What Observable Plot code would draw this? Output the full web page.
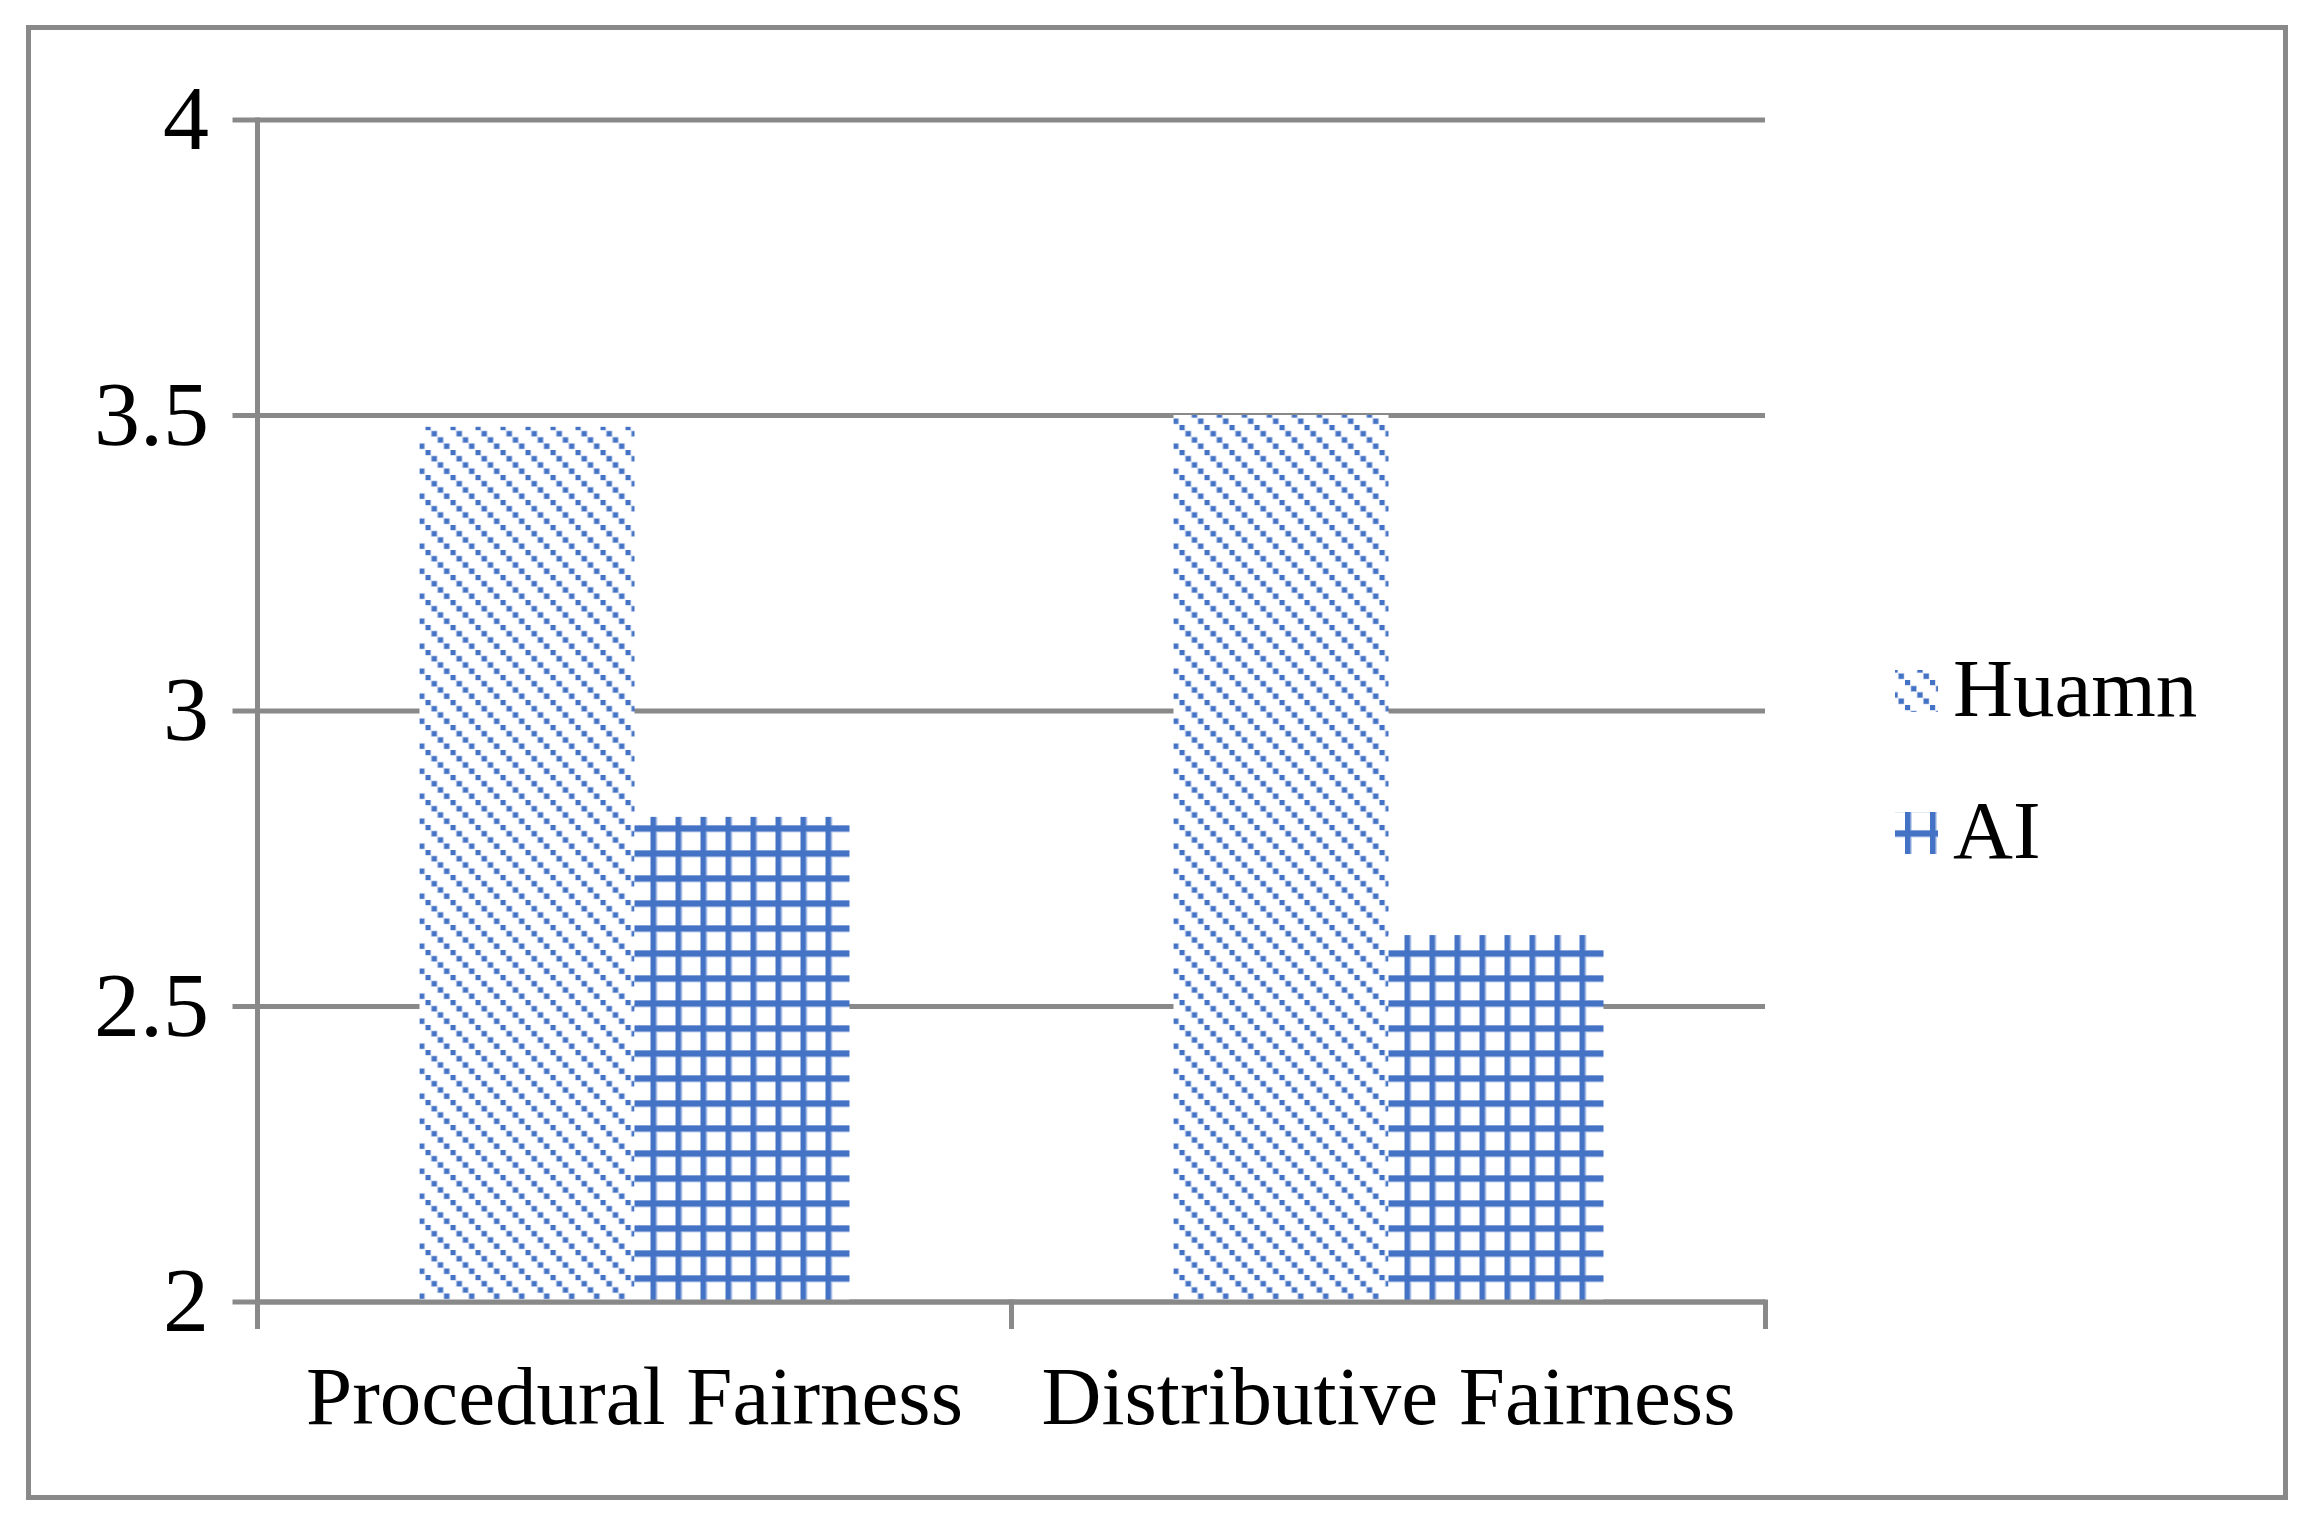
<!DOCTYPE html>
<html>
<head>
<meta charset="utf-8">
<script src="https://cdn.jsdelivr.net/npm/d3@7"></script>
<script src="https://cdn.jsdelivr.net/npm/@observablehq/plot@0.6"></script>
<style>
  html, body { margin: 0; padding: 0; background: #ffffff; }
  #page { position: relative; width: 2307px; height: 1519px; background: #ffffff; overflow: hidden; }
  #border { position: absolute; left: 26px; top: 25px; width: 2262px; height: 1475px; border: 5px solid #898989; box-sizing: border-box; }
  #chart { position: absolute; left: 0; top: 0; }
  #legend { position: absolute; left: 1880px; top: 630px; }
</style>
</head>
<body>
<div id="page">
  <div id="border"></div>
  <div id="chart"></div>
  <svg id="legend" width="420" height="260"></svg>
</div>
<script>
// ---- data ----
const categories = ["Procedural Fairness", "Distributive Fairness"];
const series = ["Huamn", "AI"];
const humanValues = [3.48, 3.50];
const aiValues = [2.82, 2.62];
const yTicks = [2, 2.5, 3, 3.5, 4];

// ---- style / layout ----
const gray = "#898989";
const blue = "#4472C4";
const light = "#c6d3ee";
const fontFamily = "'Liberation Serif', 'Times New Roman', serif";
const fontSize = 83;
const tickFontSize = 92;
const W = 2307, H = 1519;
const axisLeft = 256.5, axisRight = 1766, yTop = 119.5, yBottom = 1301.5;
const plotH = yBottom - yTop;
const tickLen = 24.5;

const table = categories.flatMap((c, i) => [
  {category: c, series: series[0], value: humanValues[i]},
  {category: c, series: series[1], value: aiValues[i]}
]);
const yBase = yTicks[0];

const chart = Plot.plot({
  width: W,
  height: H,
  marginLeft: axisLeft,
  marginRight: W - axisRight,
  marginTop: yTop,
  marginBottom: H - yBottom,
  style: {fontFamily, fontSize: fontSize + "px", background: "none", color: "black", overflow: "visible"},
  fx: {domain: categories, padding: 0, label: null},
  x: {domain: series, paddingInner: 0, paddingOuter: 0.75, axis: null},
  y: {domain: [yTicks[0], yTicks[yTicks.length - 1]], axis: null},
  color: {domain: series, range: ["url(#pat-human)", "url(#pat-ai)"]},
  marks: [
    Plot.gridY(yTicks, {stroke: gray, strokeWidth: 5, strokeOpacity: 1}),
    Plot.axisY(yTicks, {tickSize: tickLen, tickPadding: 24, tickFormat: d => String(d), stroke: gray, strokeWidth: 5, strokeOpacity: 1, color: "black", fontSize: tickFontSize, label: null}),
    Plot.barY(table, {fx: "category", x: "series", y1: () => yBase, y2: "value", fill: "series"}),
    Plot.ruleY([yBase], {stroke: gray, strokeWidth: 5}),
    Plot.frame({anchor: "left", facetAnchor: "left", stroke: gray, strokeWidth: 5, insetBottom: -tickLen}),
    Plot.frame({anchor: "right", stroke: gray, strokeWidth: 5, insetTop: plotH, insetBottom: -tickLen}),
    Plot.axisFx({anchor: "bottom", tickSize: 0, tickPadding: 63, fontSize, color: "black", label: null})
  ]
});

// patterns
const defs = d3.select(chart).insert("defs", ":first-child");
const ph = defs.append("pattern").attr("id", "pat-human").attr("patternUnits", "userSpaceOnUse")
  .attr("width", 25).attr("height", 25);
ph.append("rect").attr("width", 25).attr("height", 25).attr("fill", "white");
for (let k = 0; k < 4; k++) {
  ph.append("rect").attr("x", k * 6.25 - 0.8).attr("y", k * 6.25 - 0.8).attr("width", 6.4).attr("height", 6.4).attr("fill", light);
  ph.append("rect").attr("x", k * 6.25).attr("y", k * 6.25).attr("width", 5).attr("height", 5).attr("fill", blue);
}
const pa = defs.append("pattern").attr("id", "pat-ai").attr("patternUnits", "userSpaceOnUse")
  .attr("width", 25).attr("height", 25);
pa.append("rect").attr("width", 25).attr("height", 25).attr("fill", "white");
pa.append("rect").attr("x", 0).attr("y", 0).attr("width", 7).attr("height", 25).attr("fill", light);
pa.append("rect").attr("x", 0).attr("y", 0).attr("width", 25).attr("height", 7.5).attr("fill", light);
pa.append("rect").attr("x", 0).attr("y", 0).attr("width", 5.5).attr("height", 25).attr("fill", blue);
pa.append("rect").attr("x", 0).attr("y", 0.5).attr("width", 25).attr("height", 6).attr("fill", blue);

document.getElementById("chart").appendChild(chart);

// legend
const lg = d3.select("#legend");
const fills = ["url(#pat-human)", "url(#pat-ai)"];
series.forEach((s, i) => {
  const rowY = [40, 182][i];
  lg.append("rect").attr("x", 15).attr("y", rowY).attr("width", 43).attr("height", 42).attr("fill", fills[i]);
  lg.append("text").attr("x", 73).attr("y", rowY + 46)
    .attr("font-family", fontFamily).attr("font-size", fontSize).attr("fill", "black").text(s);
});
</script>
</body>
</html>
